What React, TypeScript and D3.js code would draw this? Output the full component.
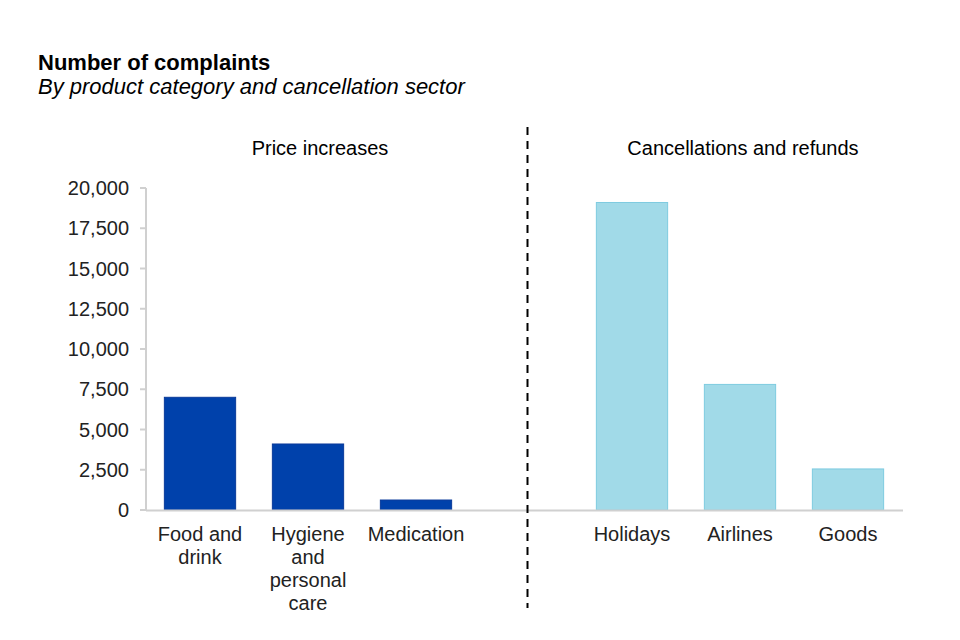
import React from "react";
import * as d3 from "d3";

const categories = ["Food and drink", "Hygiene and personal care", "Medication", "", "Holidays", "Airlines", "Goods"];
const categoryLines = [["Food and", "drink"], ["Hygiene", "and", "personal", "care"], ["Medication"], [], ["Holidays"], ["Airlines"], ["Goods"]];
const groups = ["price", "price", "price", "", "cancel", "cancel", "cancel"];
const values = [7000, 4100, 620, 0, 19100, 7800, 2550];
const yTicks = [0, 2500, 5000, 7500, 10000, 12500, 15000, 17500, 20000];
const groupLabels = ["Price increases", "Cancellations and refunds"];

const W = 960;
const H = 640;
const left = 146;
const right = 902;
const top = 188;
const bottom = 510;
const font = "Arial, 'Liberation Sans', sans-serif";

export default function App() {
  const x = d3.scaleBand<number>().domain(d3.range(categories.length)).range([left, right]).paddingInner(0.34).paddingOuter(0.17);
  const y = d3.scaleLinear().domain([0, 20000]).range([bottom, top]);
  const fmt = d3.format(",");
  const slot = (right - left) / categories.length;
  const dashX = left + slot * 3.5 + 3.5;
  const center = (i: number) => (x(i) as number) + x.bandwidth() / 2;

  return (
    <svg width={W} height={H} style={{ position: "absolute", left: 0, top: 0 }} fontFamily={font}>
      <rect width={W} height={H} fill="#fff" />
      <text x={38} y={70} fontSize={22} fontWeight="bold" fill="#000">Number of complaints</text>
      <text x={38} y={94} fontSize={22} fontStyle="italic" fill="#000">By product category and cancellation sector</text>

      <text x={320} y={155} fontSize={20} textAnchor="middle" fill="#000">{groupLabels[0]}</text>
      <text x={743} y={155} fontSize={20} textAnchor="middle" fill="#000">{groupLabels[1]}</text>

      {/* y axis */}
      <line x1={left} x2={left} y1={y(20000)} y2={bottom} stroke="#d0d0d0" strokeWidth={2} />
      {yTicks.map((t) => (
        <g key={t}>
          <line x1={left - 6} x2={left} y1={y(t)} y2={y(t)} stroke="#d0d0d0" strokeWidth={2} />
          <text x={129} y={y(t)} dy="0.35em" fontSize={20} textAnchor="end" fill="#222">{fmt(t)}</text>
        </g>
      ))}

      {/* bars */}
      {values.map((v, i) =>
        groups[i] === "" ? null : (
          <rect
            key={i}
            x={x(i) as number}
            y={y(v)}
            width={x.bandwidth()}
            height={bottom - y(v)}
            fill={groups[i] === "price" ? "#0041AB" : "#A1DAE8"}
            stroke={groups[i] === "price" ? "#0A3A9A" : "#7ECBE0"}
            strokeWidth={1}
          />
        )
      )}

      {/* x axis */}
      <line x1={left} x2={right + 1} y1={bottom + 0.5} y2={bottom + 0.5} stroke="#d0d0d0" strokeWidth={2} />

      {categoryLines.map((lines, i) => (
        <text key={i} x={center(i)} y={541} fontSize={20} textAnchor="middle" fill="#222">
          {lines.map((l, j) => (
            <tspan key={j} x={center(i)} dy={j === 0 ? 0 : 23}>{l}</tspan>
          ))}
        </text>
      ))}

      {/* divider */}
      <line x1={dashX} x2={dashX} y1={127} y2={608} stroke="#000" strokeWidth={2} strokeDasharray="8,6" />
    </svg>
  );
}
